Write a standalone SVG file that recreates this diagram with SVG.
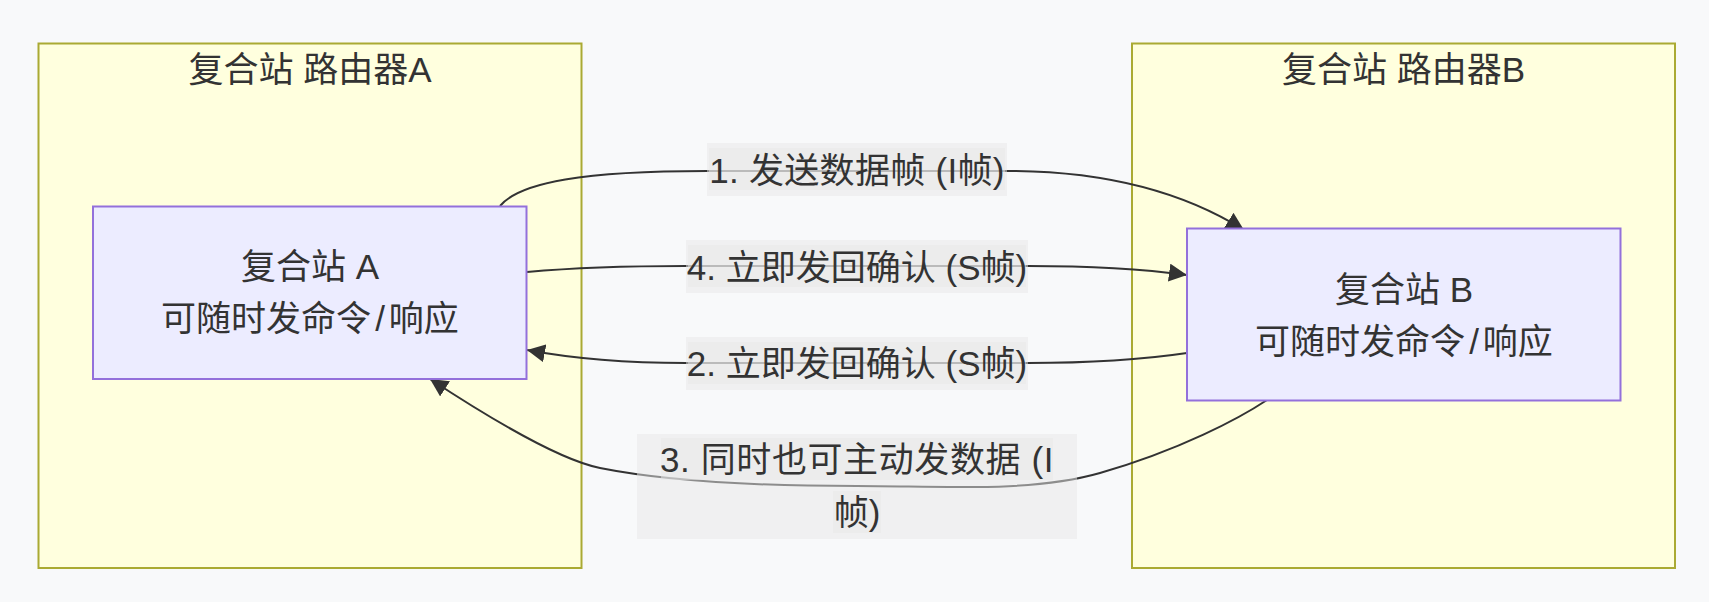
<svg xmlns="http://www.w3.org/2000/svg" width="1709" height="602" viewBox="0 0 1709 602">
  <defs>
    <style>
      .cluster { fill: #ffffde; stroke: #aaaa33; stroke-width: 2; }
      .node { fill: #ececff; stroke: #9370db; stroke-width: 2; }
      .edge { fill: none; stroke: #333333; stroke-width: 2; }
      .lbl-outer { fill: #e8e8e8; fill-opacity: 0.5; }
      .lbl-inner { fill: #e8e8e8; fill-opacity: 0.5; }
      text { font-family: "Liberation Sans", "Noto Sans CJK SC", sans-serif; font-size: 35px; fill: #333333; text-anchor: middle; }
    </style>
    <marker id="arrow" viewBox="0 0 10 10" refX="10" refY="5" markerUnits="userSpaceOnUse" markerWidth="18" markerHeight="18" orient="auto">
      <path d="M0,0 L10,5 L0,10 z" fill="#333333"/>
    </marker>
  </defs>
  <rect width="1709" height="602" fill="#f8f9fa"/>

  <g id="cluster-routerA">
    <rect class="cluster" x="38.5" y="43.5" width="543" height="524.5"/>
    <text x="310" y="82">复合站 路由器A</text>
  </g>
  <g id="cluster-routerB">
    <rect class="cluster" x="1132" y="43.5" width="543" height="524.5"/>
    <text x="1403.5" y="82">复合站 路由器B</text>
  </g>

  <g id="connectors">
    <path class="edge" d="M500,206 C520,182 585,171 707,171 L1007,171 C1100,171 1180,190 1244,230" marker-end="url(#arrow)"/>
    <path class="edge" d="M527,272 C560,269 620,266 686,266 L1028,266 C1100,266 1150,270 1187,275" marker-end="url(#arrow)"/>
    <path class="edge" d="M1187,353 C1140,360 1090,363 1028,363 L686,363 C620,363 570,358 527,350" marker-end="url(#arrow)"/>
    <path class="edge" d="M1267,400 C1240,418 1180,450 1100,473 C1030,493 940,486 857,486 C760,486 670,482 600,468 C565,461 500,425 430,379" marker-end="url(#arrow)"/>
  </g>

  <g id="edge-labels">
    <g id="label-1">
      <rect class="lbl-outer" x="707" y="143" width="300" height="53"/>
      <rect class="lbl-inner" x="709" y="148" width="296" height="42"/>
      <text x="857" y="182.5" letter-spacing="0.3">1. 发送数据帧 (I帧)</text>
    </g>
    <g id="label-4">
      <rect class="lbl-outer" x="686" y="240" width="342" height="53"/>
      <rect class="lbl-inner" x="688" y="245" width="338" height="42"/>
      <text x="857" y="279.5">4. 立即发回确认 (S帧)</text>
    </g>
    <g id="label-2">
      <rect class="lbl-outer" x="686" y="337" width="342" height="53"/>
      <rect class="lbl-inner" x="688" y="342" width="338" height="42"/>
      <text x="857" y="376">2. 立即发回确认 (S帧)</text>
    </g>
    <g id="label-3">
      <rect class="lbl-outer" x="637" y="434" width="440" height="105"/>
      <rect class="lbl-inner" x="661" y="438" width="392" height="42"/>
      <rect class="lbl-inner" x="833" y="491" width="48" height="42"/>
      <text x="857" y="472" letter-spacing="0.6">3. 同时也可主动发数据 (I</text>
      <text x="857" y="524.5">帧)</text>
    </g>
  </g>

  <g id="node-A">
    <rect class="node" x="93" y="206.5" width="433.5" height="172.5"/>
    <text x="310" y="278.5">复合站 A</text>
    <text x="310" y="331">可随时发命令<tspan dx="4">/</tspan><tspan dx="4">响应</tspan></text>
  </g>
  <g id="node-B">
    <rect class="node" x="1187" y="228.5" width="433.5" height="172"/>
    <text x="1404" y="301.5">复合站 B</text>
    <text x="1404" y="354">可随时发命令<tspan dx="4">/</tspan><tspan dx="4">响应</tspan></text>
  </g>
</svg>
